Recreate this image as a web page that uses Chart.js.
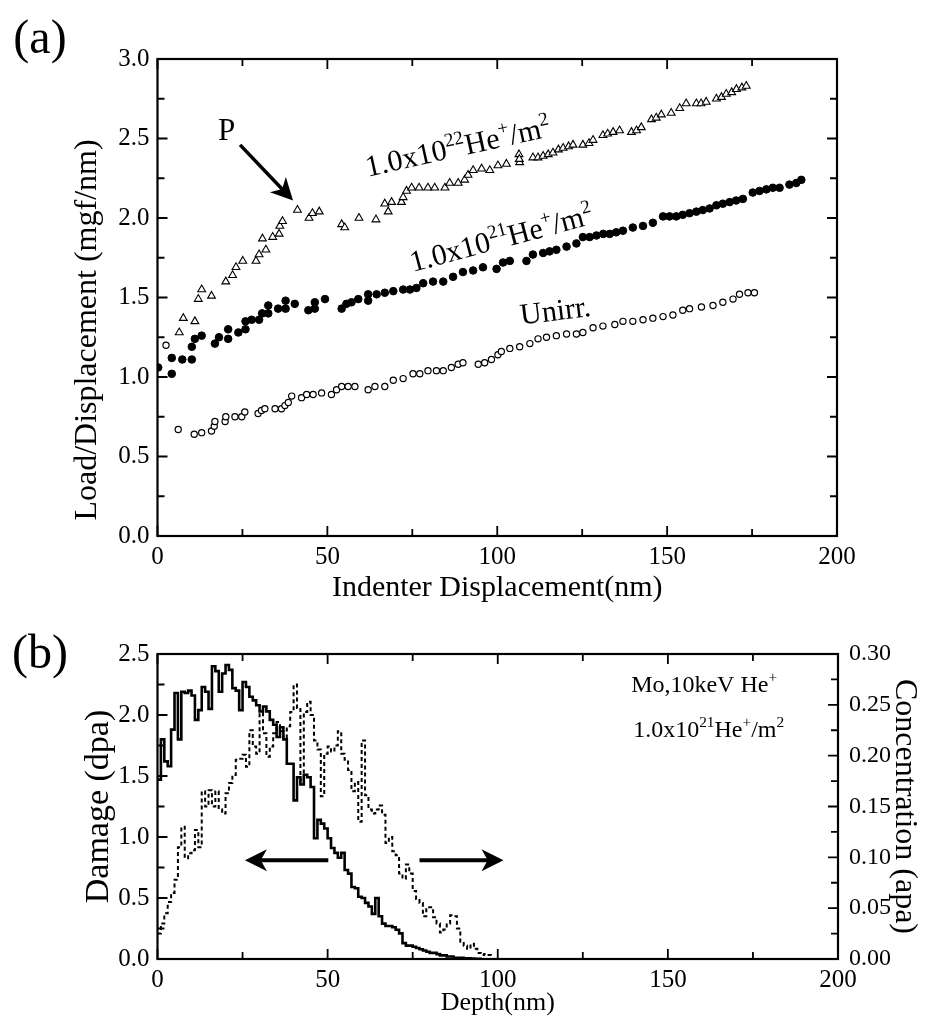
<!DOCTYPE html>
<html>
<head>
<meta charset="utf-8">
<script src="https://cdn.jsdelivr.net/npm/chart.js@4.4.0/dist/chart.umd.min.js"></script>
<style>
  body { margin: 0; background: #fff; }
  #wrap { position: relative; width: 929px; height: 1020px; }
  canvas { position: absolute; left: 0; }
</style>
</head>
<body>
<div id="wrap">
  <canvas id="chartA" width="929" height="620" style="top:0"></canvas>
  <canvas id="chartB" width="929" height="400" style="top:620px"></canvas>
</div>
<script>
// (a) load/displacement vs indenter displacement, [nm, mgf/nm]
const he22 = [[6.4,1.28],[7.6,1.37],[11.0,1.35],[12.0,1.49],[13.0,1.55],[15.9,1.51],[20.1,1.60],[22.1,1.64],
  [23.1,1.69],[25.1,1.73],[29.0,1.73],[29.9,1.77],[30.9,1.87],[31.9,1.80],[33.9,1.88],[35.8,1.90],[36.0,1.95],
  [36.8,1.98],[41.2,2.05],[44.6,2.00],[45.6,2.03],[47.6,2.04],[54.2,1.96],[55.1,1.94],[59.3,2.00],[64.3,1.99],
  [66.9,2.09],[67.9,2.04],[68.9,2.10],[71.8,2.10],[72.3,2.13],[73.3,2.17],[74.8,2.19],[77.0,2.19],[79.6,2.19],
  [81.6,2.19],[84.6,2.19],[86.0,2.22],[88.5,2.22],[90.4,2.24],[91.4,2.27],[92.9,2.30],[95.4,2.31],[97.8,2.30],
  [100.2,2.33],[102.7,2.34],[106.4,2.40],[106.6,2.35],[106.5,2.37],[110.5,2.38],[112.0,2.38],[113.5,2.39],
  [115.0,2.40],[116.4,2.41],[118.0,2.43],[119.4,2.44],[121.0,2.45],[122.3,2.46],[125.2,2.46],[127.0,2.47],
  [128.2,2.49],[131.1,2.52],[132.5,2.53],[134.1,2.54],[136.0,2.55],[139.5,2.54],[141.0,2.55],[142.4,2.57],
  [145.4,2.62],[146.8,2.63],[148.3,2.65],[151.2,2.66],[153.7,2.69],[155.6,2.72],[158.6,2.72],[160.0,2.72],
  [161.5,2.73],[164.5,2.75],[166.0,2.76],[167.4,2.78],[169.0,2.79],[170.4,2.81],[172.0,2.82],[173.3,2.83]];

const he21 = [[0.2,1.06],[4.2,1.02],[4.2,1.12],[7.3,1.11],[10.1,1.11],[10.1,1.19],[11.0,1.24],[13.0,1.26],
  [16.9,1.21],[18.1,1.25],[20.8,1.24],[20.8,1.30],[23.8,1.28],[25.9,1.30],[25.9,1.35],[27.7,1.36],[29.9,1.36],
  [30.8,1.40],[32.6,1.40],[32.6,1.45],[35.5,1.43],[37.7,1.43],[37.7,1.48],[40.4,1.46],[44.4,1.42],[46.3,1.43],
  [46.3,1.47],[49.3,1.49],[54.2,1.43],[55.6,1.46],[57.1,1.47],[59.1,1.49],[62.0,1.48],[62.0,1.52],[64.5,1.52],
  [66.9,1.53],[69.4,1.54],[72.3,1.55],[74.3,1.55],[76.2,1.56],[78.2,1.59],[81.1,1.60],[84.1,1.60],[87.0,1.63],
  [89.9,1.66],[92.9,1.67],[95.8,1.69],[99.8,1.68],[101.7,1.72],[103.7,1.73],[108.6,1.73],[110.5,1.77],
  [113.5,1.78],[115.4,1.79],[117.4,1.80],[120.4,1.82],[123.3,1.84],[125.2,1.88],[127.2,1.88],[129.2,1.89],
  [131.2,1.90],[133.1,1.90],[135.0,1.91],[137.0,1.92],[139.9,1.94],[142.9,1.95],[145.8,1.97],[148.8,2.01],
  [150.7,2.01],[152.7,2.01],[154.6,2.02],[156.6,2.03],[158.6,2.04],[160.5,2.05],[162.5,2.06],[164.5,2.08],
  [166.4,2.09],[168.4,2.10],[170.3,2.11],[172.3,2.12],[175.2,2.16],[177.2,2.17],[179.2,2.18],[181.1,2.19],
  [183.1,2.19],[186.0,2.21],[188.0,2.22],[189.5,2.24]];

const unirr = [[2.5,1.20],[6.1,0.67],[10.8,0.64],[13.0,0.65],[15.9,0.66],[16.7,0.69],[16.9,0.72],[19.9,0.72],
  [20.1,0.75],[22.8,0.75],[24.8,0.75],[25.7,0.78],[29.6,0.77],[30.6,0.79],[31.6,0.80],[34.6,0.80],[36.5,0.80],
  [37.5,0.82],[38.5,0.84],[39.5,0.88],[42.4,0.87],[43.9,0.89],[45.8,0.89],[48.3,0.90],[51.2,0.89],[52.7,0.92],
  [54.2,0.94],[56.1,0.94],[58.1,0.94],[62.0,0.92],[64.0,0.94],[66.9,0.94],[69.4,0.98],[72.3,0.99],[75.2,1.02],
  [77.2,1.02],[79.6,1.04],[82.1,1.04],[84.1,1.04],[86.5,1.06],[88.5,1.08],[89.9,1.09],[94.4,1.08],[96.3,1.09],
  [98.3,1.11],[100.2,1.14],[101.2,1.16],[103.7,1.18],[106.6,1.19],[109.6,1.21],[112.0,1.24],[114.5,1.25],
  [117.4,1.26],[120.4,1.27],[123.3,1.27],[125.2,1.28],[128.2,1.31],[131.1,1.32],[134.6,1.33],[137.0,1.35],
  [139.9,1.35],[142.9,1.36],[145.8,1.37],[148.8,1.38],[151.7,1.39],[154.6,1.42],[156.6,1.43],[160.1,1.44],
  [163.5,1.45],[166.4,1.47],[169.4,1.49],[171.3,1.52],[173.8,1.53],[175.7,1.53]];

// (b) depth profiles in 1 nm bins starting at 0 nm
const BIN_NM = 1;
const damageDpa = [1.47,1.80,1.62,1.58,1.88,2.18,1.80,2.19,2.18,2.20,
  2.16,1.96,2.04,2.23,2.19,2.05,2.40,2.36,2.19,2.34,
  2.41,2.37,2.22,2.20,2.04,2.27,2.23,2.15,2.12,2.08,
  2.03,2.07,2.03,1.96,1.92,1.82,1.90,1.80,1.60,1.60,
  1.30,1.49,1.43,1.51,1.49,1.41,0.99,1.14,1.11,1.07,
  0.99,0.91,0.87,0.83,0.87,0.73,0.70,0.59,0.58,0.51,
  0.50,0.46,0.43,0.37,0.50,0.35,0.29,0.27,0.27,0.26,
  0.24,0.21,0.13,0.11,0.11,0.10,0.09,0.08,0.07,0.06,
  0.05,0.05,0.04,0.03,0.03,0.02,0.02,0.01,0.01,0.01,
  0.005,0.005,0.003,0.002,0.001];
const concApa = [0.025,0.035,0.045,0.056,0.065,0.078,0.110,0.130,0.099,0.104,
  0.107,0.127,0.110,0.165,0.150,0.166,0.150,0.165,0.147,0.143,
  0.163,0.173,0.181,0.196,0.197,0.201,0.189,0.225,0.209,0.202,
  0.242,0.222,0.199,0.209,0.222,0.233,0.224,0.217,0.229,0.243,
  0.270,0.247,0.175,0.243,0.253,0.240,0.215,0.206,0.160,0.202,
  0.209,0.204,0.210,0.224,0.202,0.196,0.186,0.165,0.174,0.135,
  0.215,0.161,0.147,0.143,0.147,0.151,0.142,0.114,0.120,0.106,
  0.102,0.084,0.079,0.093,0.084,0.067,0.059,0.055,0.042,0.051,
  0.051,0.041,0.035,0.026,0.029,0.035,0.043,0.042,0.030,0.017,
  0.013,0.010,0.015,0.010,0.006,0.004,0.005,0.004];

const FONT = '"Liberation Serif", "Times New Roman", serif';
const pts = arr => arr.map(([x, y]) => ({x, y}));
const steps = vals => vals.map((v, i) => ({x: i * BIN_NM, y: v})).concat([{x: vals.length * BIN_NM, y: 0}]);

function richText(ctx, x, y, deg, size, runs) {
  ctx.save();
  ctx.translate(x, y);
  ctx.rotate(deg * Math.PI / 180);
  ctx.fillStyle = '#000';
  ctx.textBaseline = 'alphabetic';
  ctx.textAlign = 'left';
  let cx = 0;
  runs.forEach(([t, sup]) => {
    const fs = sup ? size * 0.64 : size;
    ctx.font = fs + 'px ' + FONT;
    ctx.fillText(t, cx, sup ? -size * 0.4 : 0);
    cx += ctx.measureText(t).width;
  });
  ctx.restore();
}

function arrow(ctx, x1, y1, x2, y2, lw, head) {
  const L = Math.hypot(x2 - x1, y2 - y1);
  ctx.save();
  ctx.translate(x2, y2);
  ctx.rotate(Math.atan2(y2 - y1, x2 - x1));
  ctx.strokeStyle = '#000';
  ctx.fillStyle = '#000';
  ctx.lineWidth = lw;
  ctx.beginPath(); ctx.moveTo(-L, 0); ctx.lineTo(-head * 0.6, 0); ctx.stroke();
  ctx.beginPath();
  ctx.moveTo(0, 0);
  ctx.lineTo(-head, -head * 0.5);
  ctx.lineTo(-head * 0.72, 0);
  ctx.lineTo(-head, head * 0.5);
  ctx.closePath();
  ctx.fill();
  ctx.restore();
}

// frame plus inward ticks on every side
const frameTicks = {
  id: 'frameTicks',
  afterDraw(chart, args, o) {
    const {ctx, chartArea: a, scales} = chart;
    ctx.save();
    ctx.strokeStyle = '#000';
    ctx.lineWidth = 2.2;
    ctx.strokeRect(a.left, a.top, a.right - a.left, a.bottom - a.top);
    ctx.lineWidth = 1.8;
    ctx.beginPath();
    const each = (scale, step, major, fn) => {
      for (let v = scale.min; v <= scale.max + step / 1000; v += step) {
        const isMajor = Math.abs(v / major - Math.round(v / major)) < 1e-6;
        fn(scale.getPixelForValue(v), isMajor ? 10 : 7);
      }
    };
    each(scales.x, o.x[0], o.x[1], (p, len) => {
      ctx.moveTo(p, a.bottom); ctx.lineTo(p, a.bottom - len);
      ctx.moveTo(p, a.top); ctx.lineTo(p, a.top + len);
    });
    each(scales[o.left[0]], o.left[1], o.left[2], (p, len) => {
      ctx.moveTo(a.left, p); ctx.lineTo(a.left + len, p);
    });
    each(scales[o.right[0]], o.right[1], o.right[2], (p, len) => {
      ctx.moveTo(a.right, p); ctx.lineTo(a.right - len, p);
    });
    ctx.stroke();
    ctx.restore();
  }
};

const tickFont = size => ({family: FONT, size: size});
const plainGrid = {display: false, drawTicks: false};

const annotA = {
  id: 'annotA',
  afterDraw(chart) {
    const ctx = chart.ctx;
    const X = v => chart.scales.x.getPixelForValue(v);
    const Y = v => chart.scales.y.getPixelForValue(v);
    ctx.save();
    ctx.fillStyle = '#000';
    ctx.font = '48px ' + FONT;
    ctx.textAlign = 'center';
    ctx.textBaseline = 'middle';
    ctx.fillText('(a)', 40, 40);
    ctx.translate(88, 330);
    ctx.rotate(-Math.PI / 2);
    ctx.font = '32px ' + FONT;
    ctx.fillText('Load/Displacement (mgf/nm)', 0, 0);
    ctx.restore();
    richText(ctx, X(17.8), Y(2.49), 0, 31, [['P']]);
    arrow(ctx, X(24.3), Y(2.46), X(39.9), Y(2.11), 3.5, 22);
    richText(ctx, X(61.9), Y(2.26), -12.5, 30, [['1.0x10'], ['22', 1], ['He'], ['+', 1], ['/m'], ['2', 1]]);
    richText(ctx, X(75.1), Y(1.66), -15, 30, [['1.0x10'], ['21', 1], ['He'], ['+', 1], ['/m'], ['2', 1]]);
    richText(ctx, X(107.1), Y(1.33), -7, 30, [['Unirr.']]);
  }
};

const annotB = {
  id: 'annotB',
  afterDraw(chart) {
    const ctx = chart.ctx;
    const X = v => chart.scales.x.getPixelForValue(v);
    const Y = v => chart.scales.y.getPixelForValue(v);
    ctx.save();
    ctx.fillStyle = '#000';
    ctx.font = '48px ' + FONT;
    ctx.textAlign = 'center';
    ctx.textBaseline = 'middle';
    ctx.fillText('(b)', 40, 35);
    ctx.restore();
    richText(ctx, X(139.2), Y(2.19), 0, 24, [['Mo,10keV He'], ['+', 1]]);
    richText(ctx, X(139.8), Y(1.82), 0, 24, [['1.0x10'], ['21', 1], ['He'], ['+', 1], ['/m'], ['2', 1]]);
    arrow(ctx, X(50.2), Y(0.81), X(25.7), Y(0.81), 4, 22);
    arrow(ctx, X(77.0), Y(0.81), X(101.7), Y(0.81), 4, 22);
  }
};

new Chart(document.getElementById('chartA'), {
  type: 'scatter',
  data: {
    datasets: [
      {data: pts(he22), pointStyle: 'triangle', pointRadius: 4.5, backgroundColor: '#fff', borderColor: '#000', borderWidth: 1.1},
      {data: pts(he21), pointStyle: 'circle', pointRadius: 3.8, backgroundColor: '#000', borderColor: '#000', borderWidth: 1},
      {data: pts(unirr), pointStyle: 'circle', pointRadius: 3.1, backgroundColor: '#fff', borderColor: '#000', borderWidth: 1.2}
    ]
  },
  options: {
    responsive: false,
    animation: false,
    devicePixelRatio: 1,
    layout: {padding: {top: 59, right: 92, left: 0, bottom: 0}},
    plugins: {
      legend: {display: false},
      tooltip: {enabled: false},
      frameTicks: {x: [25, 50], left: ['y', 0.25, 0.5], right: ['y', 0.25, 0.5]}
    },
    scales: {
      x: {
        type: 'linear', min: 0, max: 200,
        grid: plainGrid, border: {display: false},
        ticks: {stepSize: 50, padding: 6, color: '#000', font: tickFont(25), maxRotation: 0},
        title: {display: true, text: 'Indenter Displacement(nm)', color: '#000', font: tickFont(30), padding: {top: 0, bottom: 14}},
        afterFit: s => { s.height = 84; }
      },
      y: {
        min: 0, max: 3,
        grid: plainGrid, border: {display: false},
        ticks: {stepSize: 0.5, padding: 8, color: '#000', font: tickFont(25), callback: v => v.toFixed(1)},
        afterFit: s => { s.width = 157.5; }
      }
    }
  },
  plugins: [frameTicks, annotA]
});

new Chart(document.getElementById('chartB'), {
  type: 'line',
  data: {
    datasets: [
      {data: steps(damageDpa), yAxisID: 'y', stepped: 'before', borderColor: '#000', borderWidth: 2.6, pointRadius: 0, fill: false},
      {data: steps(concApa), yAxisID: 'y2', stepped: 'before', borderColor: '#000', borderWidth: 2, borderDash: [4, 3], pointRadius: 0, fill: false}
    ]
  },
  options: {
    responsive: false,
    animation: false,
    devicePixelRatio: 1,
    layout: {padding: {top: 34, right: 0, left: 0, bottom: 0}},
    plugins: {
      legend: {display: false},
      tooltip: {enabled: false},
      frameTicks: {x: [25, 50], left: ['y', 0.25, 0.5], right: ['y2', 0.025, 0.05]}
    },
    scales: {
      x: {
        type: 'linear', min: 0, max: 200,
        grid: plainGrid, border: {display: false},
        ticks: {stepSize: 50, padding: 6, color: '#000', font: tickFont(25), maxRotation: 0},
        title: {display: true, text: 'Depth(nm)', color: '#000', font: tickFont(26), padding: {top: 0, bottom: 1}},
        afterFit: s => { s.height = 61; }
      },
      y: {
        position: 'left', min: 0, max: 2.5,
        grid: plainGrid, border: {display: false},
        ticks: {stepSize: 0.5, padding: 8, color: '#000', font: tickFont(25), callback: v => v.toFixed(1)},
        title: {display: true, text: 'Damage (dpa)', color: '#000', font: tickFont(34), padding: {top: 79, bottom: 0}},
        afterFit: s => { s.width = 157.5; }
      },
      y2: {
        position: 'right', min: 0, max: 0.3,
        grid: plainGrid, border: {display: false},
        ticks: {stepSize: 0.05, padding: 11, color: '#000', font: tickFont(24), callback: v => v.toFixed(2)},
        title: {display: true, text: 'Concentration (apa)', color: '#000', font: tickFont(32), padding: {top: 5, bottom: 0}},
        afterFit: s => { s.width = 91; }
      }
    }
  },
  plugins: [frameTicks, annotB]
});
</script>
</body>
</html>
